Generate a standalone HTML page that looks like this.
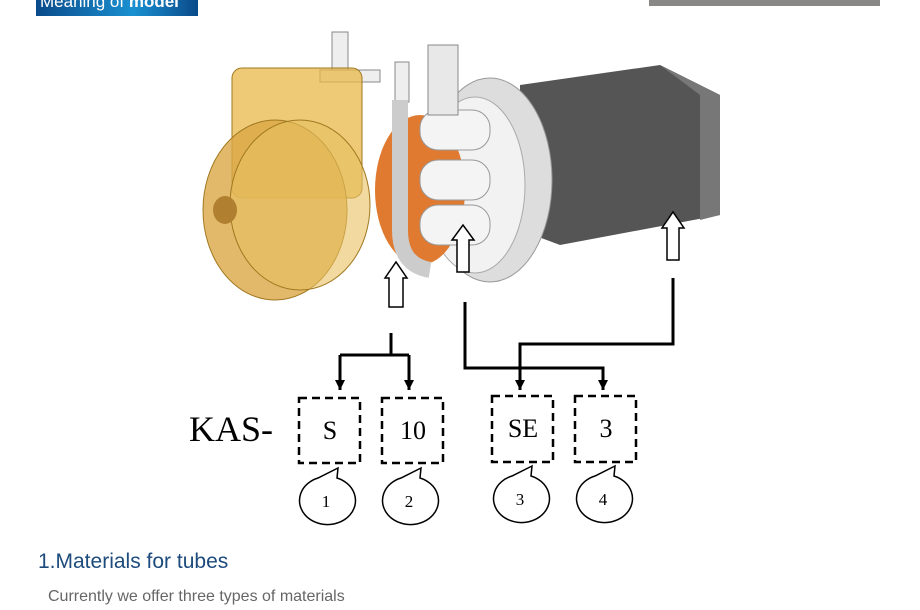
<!DOCTYPE html>
<html><head><style>
body{margin:0;width:920px;height:610px;background:#fff;overflow:hidden;position:relative;font-family:"Liberation Sans",sans-serif}
.hd{position:absolute;left:36px;top:-6px;width:162px;height:22px;background:linear-gradient(90deg,#0a4a8a,#1a90d0 60%,#0a4a8a);color:#fff;font-size:17px;line-height:16px;padding-left:4px;box-sizing:border-box}
.gb{position:absolute;left:649px;top:0;width:231px;height:6px;background:#8a8886}
.t1{position:absolute;left:38px;top:550px;font-size:21px;color:#1d4b7c}
.t2{position:absolute;left:48px;top:588px;font-size:16px;color:#666}
</style></head><body>
<div class="hd">Meaning of <b>model</b></div>
<div class="gb"></div>
<svg width="920" height="540" style="position:absolute;left:0;top:0" font-family="Liberation Serif,serif">
<defs>
<marker id="a" markerWidth="10" markerHeight="10" refX="10" refY="5" orient="auto" markerUnits="userSpaceOnUse"><path d="M0,0 L10,5 L0,10z" fill="#000"/></marker>
</defs>
<polygon points="520,85 660,65 720,95 720,215 560,245 520,230" fill="#555"/>
<polygon points="660,65 720,95 720,215 700,220 700,95" fill="#777"/>
<ellipse cx="490" cy="180" rx="62" ry="102" fill="#ddd" stroke="#999"/>
<ellipse cx="475" cy="185" rx="50" ry="88" fill="#f2f2f2" stroke="#aaa"/>
<ellipse cx="420" cy="190" rx="45" ry="75" fill="#e07a30"/>
<rect x="420" y="110" width="70" height="40" rx="18" fill="#f4f4f4" stroke="#999"/>
<rect x="420" y="160" width="70" height="40" rx="18" fill="#f4f4f4" stroke="#999"/>
<rect x="420" y="205" width="70" height="40" rx="18" fill="#f4f4f4" stroke="#999"/>
<rect x="395" y="62" width="14" height="40" fill="#eee" stroke="#888"/>
<path d="M400,100 L400,230 Q400,265 430,270" fill="none" stroke="#ccc" stroke-width="16"/>
<rect x="332" y="32" width="16" height="50" fill="#eee" stroke="#888"/>
<rect x="320" y="70" width="60" height="12" fill="#eee" stroke="#888"/>
<rect x="428" y="45" width="30" height="70" fill="#e8e8e8" stroke="#888"/>
<rect x="232" y="68" width="130" height="130" rx="10" fill="#e8b84a" fill-opacity="0.75" stroke="#a07820"/>
<ellipse cx="275" cy="210" rx="72" ry="90" fill="#dba845" fill-opacity="0.8" stroke="#a07820"/>
<ellipse cx="300" cy="205" rx="70" ry="85" fill="#e8c060" fill-opacity="0.6" stroke="#a07820"/>
<ellipse cx="225" cy="210" rx="12" ry="14" fill="#b08030"/>
<g fill="#fff" stroke="#000" stroke-width="1.5">
<path d="M389,307 L389,278 L385,278 L396,262 L407,278 L403,278 L403,307z"/>
<path d="M457,272 L457,240 L452,240 L463,225 L474,240 L469,240 L469,272z"/>
<path d="M667,260 L667,228 L662,228 L673,212 L684,228 L679,228 L679,260z"/>
</g>
<g fill="none" stroke="#000" stroke-width="3">
<path d="M391,333 L391,355 M340,355 L409,355"/>
<path d="M340,355 L340,390" marker-end="url(#a)"/>
<path d="M409,355 L409,390" marker-end="url(#a)"/>
<path d="M465,302 L465,368 L603,368 L603,390" marker-end="url(#a)"/>
<path d="M673,278 L673,344 L520,344 L520,390" marker-end="url(#a)"/>
</g>
<text x="189" y="441" font-size="36">KAS-</text>
<g fill="none" stroke="#000" stroke-width="2.5" stroke-dasharray="8,5">
<rect x="299" y="398" width="61" height="65"/>
<rect x="382" y="398" width="61" height="65"/>
<rect x="492" y="396" width="61" height="66"/>
<rect x="575" y="396" width="61" height="66"/>
</g>
<g font-size="26" text-anchor="middle">
<text x="330" y="439">S</text><text x="413" y="439">10</text>
<text x="523" y="437">SE</text><text x="606" y="437">3</text>
</g>
<g fill="#fff" stroke="#000" stroke-width="1.5">
<path d="M318,478 A28,24 0 1 0 337,478 L338,468 Z"/>
<path d="M401,478 A28,24 0 1 0 420,478 L421,468 Z"/>
<path d="M512,476 A28,24 0 1 0 531,476 L532,466 Z"/>
<path d="M595,476 A28,24 0 1 0 614,476 L615,466 Z"/>
</g>
<g font-size="17" text-anchor="middle">
<text x="326" y="507">1</text><text x="409" y="507">2</text>
<text x="520" y="505">3</text><text x="603" y="505">4</text>
</g>
</svg>
<div class="t1">1.Materials for tubes</div>
<div class="t2">Currently we offer three types of materials</div>
</body></html>
